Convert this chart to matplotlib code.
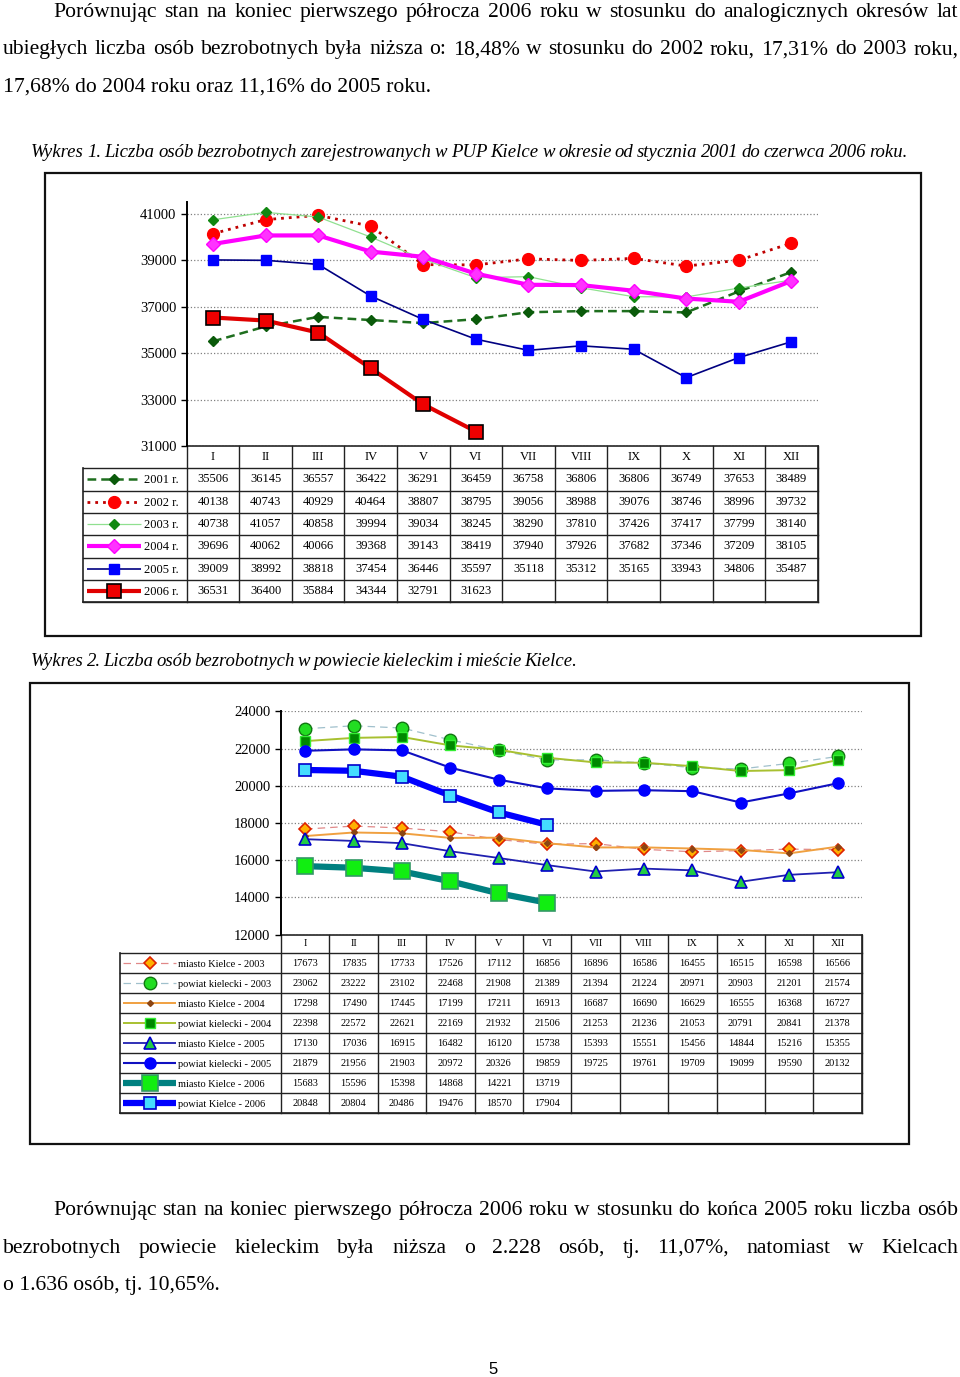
import matplotlib.pyplot as plt
from matplotlib.patches import Rectangle

# ---- data (read from the page) ----
months = ['I', 'II', 'III', 'IV', 'V', 'VI', 'VII', 'VIII', 'IX', 'X', 'XI', 'XII']

labels1 = ['2001 r.', '2002 r.', '2003 r.', '2004 r.', '2005 r.', '2006 r.']
y2001 = [35506, 36145, 36557, 36422, 36291, 36459, 36758, 36806, 36806, 36749, 37653, 38489]
y2002 = [40138, 40743, 40929, 40464, 38807, 38795, 39056, 38988, 39076, 38746, 38996, 39732]
y2003 = [40738, 41057, 40858, 39994, 39034, 38245, 38290, 37810, 37426, 37417, 37799, 38140]
y2004 = [39696, 40062, 40066, 39368, 39143, 38419, 37940, 37926, 37682, 37346, 37209, 38105]
y2005 = [39009, 38992, 38818, 37454, 36446, 35597, 35118, 35312, 35165, 33943, 34806, 35487]
y2006 = [36531, 36400, 35884, 34344, 32791, 31623]
yticks1 = [31000, 33000, 35000, 37000, 39000, 41000]

labels2 = ['miasto Kielce - 2003', 'powiat kielecki - 2003', 'miasto Kielce - 2004',
           'powiat kielecki - 2004', 'miasto Kielce - 2005', 'powiat kielecki - 2005',
           'miasto Kielce - 2006', 'powiat Kielce - 2006']
mk2003 = [17673, 17835, 17733, 17526, 17112, 16856, 16896, 16586, 16455, 16515, 16598, 16566]
pk2003 = [23062, 23222, 23102, 22468, 21908, 21389, 21394, 21224, 20971, 20903, 21201, 21574]
mk2004 = [17298, 17490, 17445, 17199, 17211, 16913, 16687, 16690, 16629, 16555, 16368, 16727]
pk2004 = [22398, 22572, 22621, 22169, 21932, 21506, 21253, 21236, 21053, 20791, 20841, 21378]
mk2005 = [17130, 17036, 16915, 16482, 16120, 15738, 15393, 15551, 15456, 14844, 15216, 15355]
pk2005 = [21879, 21956, 21903, 20972, 20326, 19859, 19725, 19761, 19709, 19099, 19590, 20132]
mk2006 = [15683, 15596, 15398, 14868, 14221, 13719]
pk2006 = [20848, 20804, 20486, 19476, 18570, 17904]
yticks2 = [12000, 14000, 16000, 18000, 20000, 22000, 24000]

para1 = ["Porównując stan na koniec pierwszego półrocza 2006 roku w stosunku do analogicznych okresów lat",
         "ubiegłych liczba osób bezrobotnych była niższa o: 18,48% w stosunku do 2002 roku,  17,31% do 2003 roku,",
         "17,68% do 2004 roku oraz 11,16% do 2005 roku."]
caption1 = "Wykres 1.  Liczba osób bezrobotnych zarejestrowanych w PUP Kielce w okresie od stycznia 2001 do czerwca 2006 roku."
caption2 = "Wykres 2. Liczba osób bezrobotnych w powiecie kieleckim i mieście Kielce."
para2 = ["Porównując stan na koniec pierwszego półrocza 2006 roku w stosunku do końca 2005 roku liczba osób",
         "bezrobotnych powiecie kieleckim była niższa o 2.228 osób, tj. 11,07%, natomiast w Kielcach",
         "o 1.636 osób, tj. 10,65%."]

# ---- styles ----
styles1 = [
    dict(color='#1e6e1e', lw=1.8, ls=(0, (3.5, 2)), marker='D', ms=5, mfc='#0a5a0a', mec='#0a5a0a'),
    dict(color='#c00000', lw=2, ls=(0, (1, 1.8)), marker='o', ms=8.5, mfc='#ff0000', mec='#ff0000'),
    dict(color='#90e090', lw=0.9, ls='-', marker='D', ms=5.5, mfc='#118811', mec='#118811'),
    dict(color='#ff00ff', lw=3, ls='-', marker='D', ms=7, mfc='#ff33ff', mec='#ff00ff'),
    dict(color='#000080', lw=1.2, ls='-', marker='s', ms=6.5, mfc='#0000ff', mec='#0000ff'),
    dict(color='#e00000', lw=3, ls='-', marker='s', ms=10, mfc='#ee0000', mec='#000000', mew=1.2),
]
styles2 = [
    dict(color='#e08888', lw=0.9, ls=(0, (6, 4)), marker='D', ms=6, mfc='#ffb000', mec='#dd2200', mew=1.2),
    dict(color='#a0c0cc', lw=0.9, ls=(0, (6, 4)), marker='o', ms=9, mfc='#22dd22', mec='#117711', mew=1),
    dict(color='#f0a040', lw=1.4, ls='-', marker='D', ms=3, mfc='#8b4513', mec='#8b4513'),
    dict(color='#a8c030', lw=1.4, ls='-', marker='s', ms=6.5, mfc='#008800', mec='#33ee33', mew=1),
    dict(color='#2020b0', lw=1.3, ls='-', marker='^', ms=8, mfc='#22cc44', mec='#0000cc', mew=1.2),
    dict(color='#1010c0', lw=1.5, ls='-', marker='o', ms=8, mfc='#0000ff', mec='#0000ff'),
    dict(color='#008080', lw=4.5, ls='-', marker='s', ms=11, mfc='#11ee11', mec='#339966', mew=1.2),
    dict(color='#0000ff', lw=4.5, ls='-', marker='s', ms=9, mfc='#44ddff', mec='#0000cc', mew=1.2),
]

SERIF = 'Liberation Serif'
BODY = 15.6
CAP = 13.5
W, H = 960, 1377
fig = plt.figure(figsize=(W / 100, H / 100), dpi=100)
page = fig.add_axes([0, 0, 1, 1])
page.set_xlim(0, W)
page.set_ylim(H, 0)
page.axis('off')
rend = fig.canvas.get_renderer()


def box(x0, y0, x1, y1):
    return [x0 / W, 1 - y1 / H, (x1 - x0) / W, (y1 - y0) / H]


def put_line(s, x0, y, x1=None, size=BODY, style='normal'):
    if x1 is None:
        page.text(x0, y, s, fontsize=size, family=SERIF, style=style, va='baseline')
        return
    words = s.split()
    ts = [page.text(0, y, w, fontsize=size, family=SERIF, style=style, va='baseline') for w in words]
    ws = [t.get_window_extent(rend).width for t in ts]
    gap = (x1 - x0 - sum(ws)) / (len(ws) - 1)
    x = x0
    for t, w in zip(ts, ws):
        t.set_x(x)
        x += w + gap


def style_line(st):
    return dict(color=st['color'], lw=st['lw'], ls=st['ls'])


def style_marker(st):
    return dict(ls='none', marker=st['marker'], ms=st['ms'], mfc=st['mfc'],
                mec=st['mec'], mew=st.get('mew', 1))


def draw_chart(rect, series, styles, ylim, yticks):
    ax = fig.add_axes(rect)
    ax.set_facecolor('none')
    for vals, st in zip(series, styles):
        xs = range(len(vals))
        ax.plot(xs, vals, clip_on=False, **style_line(st))
        ax.plot(xs, vals, clip_on=False, **style_marker(st))
    ax.set_xlim(-0.5, 11.5)
    ax.set_ylim(*ylim)
    ax.set_xticks([])
    ax.set_yticks(yticks)
    ax.set_yticklabels([str(v) for v in yticks], family=SERIF, fontsize=10.5)
    ax.tick_params(axis='y', length=4.5, width=1, pad=3)
    ax.yaxis.grid(True, ls=':', color='#808080', lw=0.9)
    ax.set_axisbelow(True)
    for s in ['top', 'right', 'bottom']:
        ax.spines[s].set_visible(False)
    ax.spines['left'].set_linewidth(1.4)
    return ax


def draw_table(x_left, x_right, leg_x0, y_top, head_h, row_h, labels, series, styles,
               fs, key, text_x):
    n = len(months)
    cw = (x_right - x_left) / n
    cols = [x_left + i * cw for i in range(n + 1)]
    y_head = y_top + head_h
    rows = [y_head + i * row_h for i in range(len(series) + 1)]
    y_bot = rows[-1]
    lc = '#222222'
    page.plot([x_left, x_right], [y_top, y_top], color=lc, lw=1.2)
    for y in rows:
        page.plot([leg_x0, x_right], [y, y], color=lc, lw=1.0)
    for x in cols:
        page.plot([x, x], [y_top, y_bot], color=lc, lw=1.0)
    page.plot([leg_x0, leg_x0], [y_head, y_bot], color=lc, lw=1.2)
    page.plot([x_right, x_right], [y_top, y_bot], color=lc, lw=1.2)
    page.plot([leg_x0, x_right], [y_bot, y_bot], color=lc, lw=1.2)
    for i, m in enumerate(months):
        page.text(cols[i] + cw / 2, (y_top + y_head) / 2, m, fontsize=fs, family=SERIF,
                  ha='center', va='center')
    for r, (lab, vals, st) in enumerate(zip(labels, series, styles)):
        yc = (rows[r] + rows[r + 1]) / 2
        for i, v in enumerate(vals):
            page.text(cols[i] + cw / 2, yc, str(v), fontsize=fs, family=SERIF,
                      ha='center', va='center')
        page.plot([key[0], key[2]], [yc, yc], solid_capstyle='butt', **style_line(st))
        page.plot([key[1]], [yc], **style_marker(st))
        page.text(text_x, yc + 1, lab, fontsize=fs, family=SERIF, ha='left', va='center')


# ---- text of the page ----
put_line(para1[0], 53, 16.7, 958)
put_line(para1[1], 3, 54.3, 958)
put_line(para1[2], 3, 91.7)
put_line(caption1, 31, 157, 908, size=CAP, style='italic')

# ---- chart 1 ----
page.add_patch(Rectangle((45, 173), 876, 463, fill=False, ec='#111111', lw=1.6))
draw_chart(box(186.7, 201.7, 817.7, 446), [y2001, y2002, y2003, y2004, y2005, y2006],
           styles1, (31000, 41516), yticks1)
draw_table(186.7, 817.7, 83.3, 446, 22.3, 22.3, labels1,
           [y2001, y2002, y2003, y2004, y2005, y2006], styles1, 9, (87, 114, 141), 144)

put_line(caption2, 31, 666, 577, size=CAP, style='italic')

# ---- chart 2 ----
page.add_patch(Rectangle((30, 683), 879, 461, fill=False, ec='#111111', lw=1.6))
series2 = [mk2003, pk2003, mk2004, pk2004, mk2005, pk2005, mk2006, pk2006]
draw_chart(box(281, 711.3, 861.7, 934.7), series2, styles2, (12000, 24000), yticks2)
draw_table(281, 861.7, 120, 934.7, 18.6, 20, labels2, series2, styles2, 7.5,
           (123, 150, 176), 178)

put_line(para2[0], 53, 1215, 958)
put_line(para2[1], 3, 1253, 958)
put_line(para2[2], 3, 1290)
page.text(493, 1369, '5', fontsize=12, family='Liberation Sans', ha='center', va='center')

fig.savefig('out.png', dpi=100)
